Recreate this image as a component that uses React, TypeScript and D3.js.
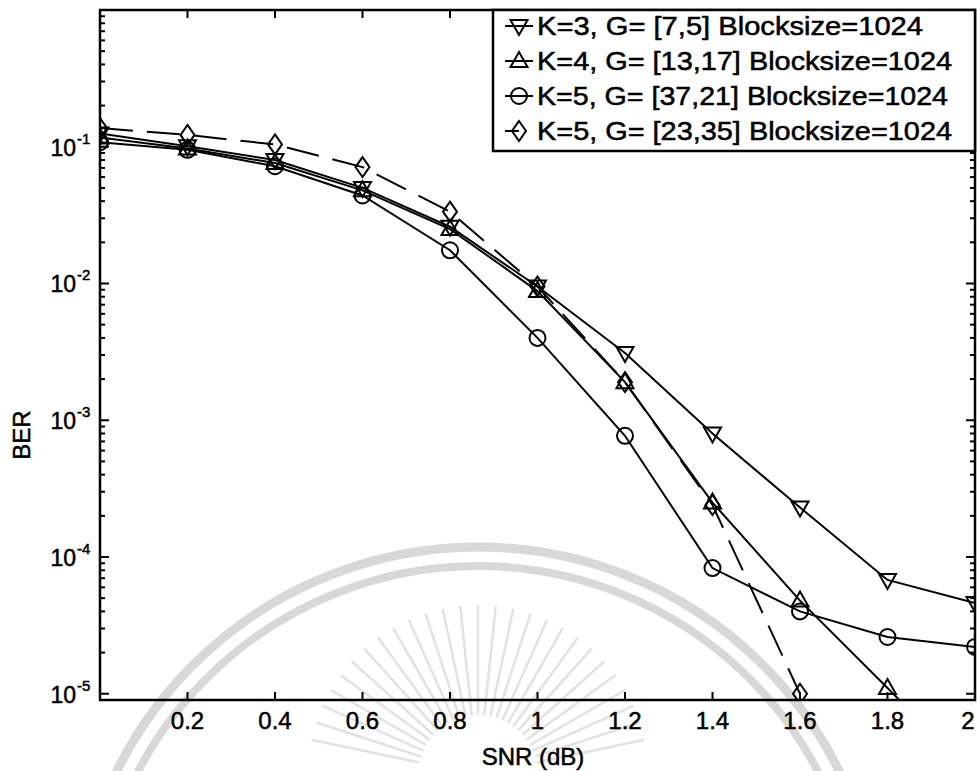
import React, { useEffect, useRef } from 'react';
import * as d3 from 'd3';

// SNR points (dB)
const snr = [0, 0.2, 0.4, 0.6, 0.8, 1.0, 1.2, 1.4, 1.6, 1.8, 2.0];

// BER
const berK3 = [0.125, 0.101, 0.08, 0.05, 0.026, 0.0095, 0.0031, 8.0e-4, 2.3e-4, 6.8e-5, 4.6e-5];
const berK4 = [0.117, 0.097, 0.076, 0.048, 0.025, 0.0088, 0.0019, 2.5e-4, 4.8e-5, 1.1e-5, 2.5e-6];
const berK5a = [0.108, 0.095, 0.072, 0.044, 0.0175, 0.004, 7.7e-4, 8.3e-5, 4.0e-5, 2.6e-5, 2.2e-5];
const berK5b = [0.137, 0.122, 0.104, 0.071, 0.0335, 0.0095, 0.0019, 2.4e-4, 1.0e-5];

const legendLabels = [
  'K=3, G= [7,5] Blocksize=1024',
  'K=4, G= [13,17] Blocksize=1024',
  'K=5, G= [37,21] Blocksize=1024',
  'K=5, G= [23,35] Blocksize=1024',
];
const legendWidths = [386, 415, 411, 415];

const xTicks = [0.2, 0.4, 0.6, 0.8, 1, 1.2, 1.4, 1.6, 1.8, 2];
const xTickLabels = ['0.2', '0.4', '0.6', '0.8', '1', '1.2', '1.4', '1.6', '1.8', '2'];
const yDecades = [-1, -2, -3, -4, -5];

const series = [
  { values: berK3, marker: 'tdown', dashed: false },
  { values: berK4, marker: 'tup', dashed: false },
  { values: berK5a, marker: 'circle', dashed: false },
  { values: berK5b, marker: 'diamond', dashed: true },
];

const FONT = '"Liberation Sans", Arial, sans-serif';

function markerPath(type: string, cx: number, cy: number) {
  if (type === 'tdown') return `M${cx - 8.5},${cy - 6}L${cx + 8.5},${cy - 6}L${cx},${cy + 9}Z`;
  if (type === 'tup') return `M${cx - 8.5},${cy + 6}L${cx + 8.5},${cy + 6}L${cx},${cy - 9}Z`;
  if (type === 'diamond') return `M${cx},${cy - 10}L${cx + 7},${cy}L${cx},${cy + 10}L${cx - 7},${cy}Z`;
  return `M${cx - 8},${cy}A8,8 0 1,0 ${cx + 8},${cy}A8,8 0 1,0 ${cx - 8},${cy}Z`;
}

function BerChart() {
  const svgRef = useRef<SVGSVGElement>(null);

  useEffect(() => {
    const svg = d3.select(svgRef.current);
    svg.selectAll('*').remove();

    const width = 977;
    const height = 771;
    const left = 100, right = 975, top = 10, bottom = 700;

    svg.attr('width', width).attr('height', height);

    const x = d3.scaleLinear().domain([0, 2]).range([left, right]);
    const y = d3.scaleLog().domain([9e-6, 1]).range([bottom, top]);

    svg.append('rect').attr('width', width).attr('height', height).attr('fill', '#fff');

    // faint watermark behind the plot
    const wm = svg.append('g').attr('fill', 'none').attr('stroke', '#d8d8d8');
    const cx = 478, cy = 950;
    wm.append('circle').attr('cx', cx).attr('cy', cy).attr('r', 403).attr('stroke-width', 9);
    wm.append('circle').attr('cx', cx).attr('cy', cy).attr('r', 384).attr('stroke-width', 8);
    d3.range(-168, -10, 6).forEach((a) => {
      const r = (a * Math.PI) / 180;
      wm.append('line')
        .attr('x1', cx + Math.cos(r) * 60).attr('y1', 775 + Math.sin(r) * 60)
        .attr('x2', cx + Math.cos(r) * 170).attr('y2', 775 + Math.sin(r) * 170)
        .attr('stroke', '#e2e2e2').attr('stroke-width', 2.5);
    });

    svg.append('clipPath').attr('id', 'plotclip')
      .append('rect').attr('x', left).attr('y', top).attr('width', right - left).attr('height', bottom - top);

    const plot = svg.append('g').attr('clip-path', 'url(#plotclip)');

    series.forEach((s) => {
      const pts = s.values.map((v, i) => [snr[i], v] as [number, number]);
      const line = d3.line<[number, number]>()
        .x((d) => x(d[0]))
        .y((d) => y(d[1]));
      plot.append('path')
        .attr('d', line(pts))
        .attr('fill', 'none')
        .attr('stroke', '#000')
        .attr('stroke-width', 2)
        .attr('stroke-dasharray', s.dashed ? '33,14' : null);
      plot.selectAll(null)
        .data(pts)
        .enter()
        .append('path')
        .attr('d', (d) => markerPath(s.marker, x(d[0]), y(d[1])))
        .attr('fill', 'none')
        .attr('stroke', '#000')
        .attr('stroke-width', 2);
    });

    // axes box
    const axes = svg.append('g').attr('stroke', '#000');
    axes.append('rect').attr('x', left).attr('y', top).attr('width', right - left).attr('height', bottom - top)
      .attr('fill', 'none').attr('stroke-width', 2.5);

    xTicks.forEach((t) => {
      axes.append('line').attr('x1', x(t)).attr('x2', x(t)).attr('y1', bottom).attr('y2', bottom - 8).attr('stroke-width', 2);
      axes.append('line').attr('x1', x(t)).attr('x2', x(t)).attr('y1', top).attr('y2', top + 8).attr('stroke-width', 2);
    });

    const [ymin, ymax] = y.domain();
    for (let e = -6; e <= 0; e++) {
      for (let k = 1; k <= 9; k++) {
        const v = k * Math.pow(10, e);
        if (v < ymin || v > ymax) continue;
        const len = k === 1 ? 9 : 5;
        axes.append('line').attr('x1', left).attr('x2', left + len).attr('y1', y(v)).attr('y2', y(v)).attr('stroke-width', 2);
        axes.append('line').attr('x1', right).attr('x2', right - len).attr('y1', y(v)).attr('y2', y(v)).attr('stroke-width', 2);
      }
    }

    // text, slightly thickened like the scanned original
    const txt = svg.append('g')
      .attr('font-family', FONT)
      .attr('fill', '#000')
      .attr('stroke', '#000')
      .attr('stroke-width', 0.5);

    xTicks.forEach((t, i) => {
      txt.append('text').attr('x', Math.min(x(t), 968)).attr('y', 729)
        .attr('text-anchor', 'middle').attr('font-size', 24)
        .text(xTickLabels[i]);
    });

    yDecades.forEach((e) => {
      const yy = y(Math.pow(10, e));
      txt.append('text').attr('x', 76).attr('y', yy + 9)
        .attr('text-anchor', 'end').attr('font-size', 23).text('10');
      txt.append('text').attr('x', 77).attr('y', yy - 3)
        .attr('font-size', 15).text(String(e));
    });

    txt.append('text').attr('x', 533).attr('y', 765).attr('text-anchor', 'middle')
      .attr('font-size', 24).text('SNR (dB)');
    txt.append('text').attr('transform', 'translate(30,435) rotate(-90)').attr('text-anchor', 'middle')
      .attr('font-size', 24).text('BER');

    // legend
    const lg = svg.append('g');
    lg.append('rect').attr('x', 493).attr('y', top).attr('width', right - 493).attr('height', 141)
      .attr('fill', '#fff').attr('stroke', '#000').attr('stroke-width', 2.5);
    series.forEach((s, i) => {
      const ry = 26 + i * 35;
      lg.append('line').attr('x1', 505).attr('x2', s.dashed ? 519 : 533).attr('y1', ry).attr('y2', ry)
        .attr('stroke', '#000').attr('stroke-width', 2);
      lg.append('path').attr('d', markerPath(s.marker, 519, ry))
        .attr('fill', 'none').attr('stroke', '#000').attr('stroke-width', 2);
      lg.append('text').attr('x', 537).attr('y', ry + 9)
        .attr('font-family', FONT).attr('font-size', 25)
        .attr('stroke', '#000').attr('stroke-width', 0.5)
        .attr('textLength', legendWidths[i]).attr('lengthAdjust', 'spacingAndGlyphs')
        .text(legendLabels[i]);
    });
  }, []);

  return <svg ref={svgRef} style={{ position: 'absolute', left: 0, top: 0, display: 'block' }}></svg>;
}

export default function App() {
  return <BerChart />;
}
